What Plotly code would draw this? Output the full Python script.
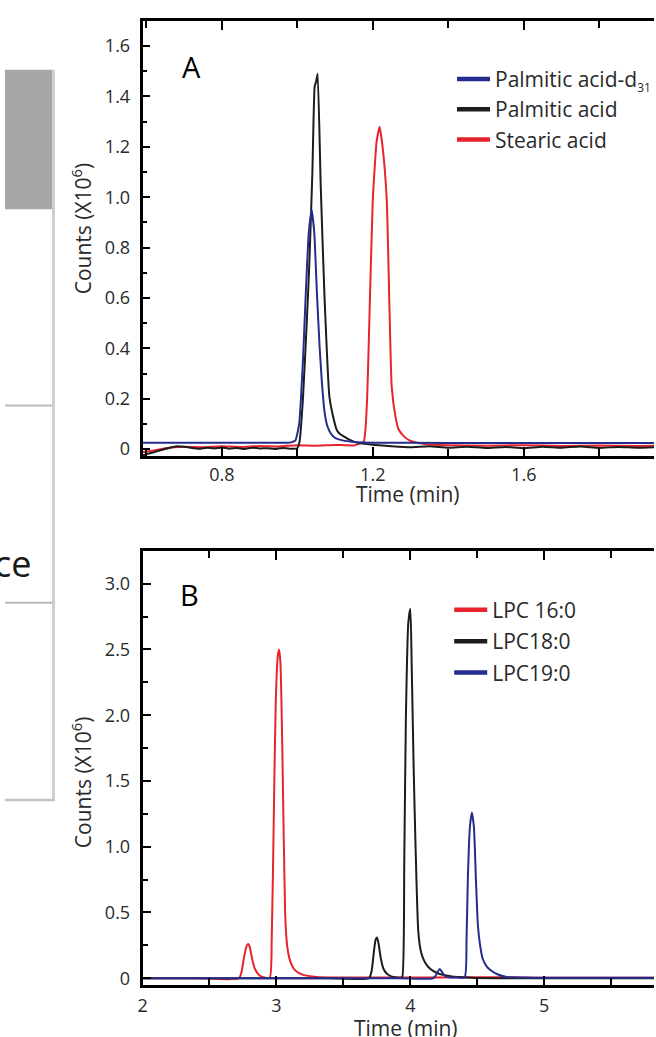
import plotly.graph_objects as go

W, H = 656, 1037

# ---------------- Data: panel A (fatty acids) ----------------
A_time_d31 = [0.59, 0.70, 0.80, 0.90, 0.98, 0.995, 1.005, 1.015, 1.022, 1.030, 1.038, 1.045,
              1.052, 1.059, 1.065, 1.072, 1.080, 1.090, 1.100, 1.120, 1.150, 1.200, 1.400,
              1.600, 1.800, 1.945]
A_d31 = [0.026, 0.026, 0.026, 0.026, 0.026, 0.035, 0.10, 0.35, 0.60, 0.85, 0.95, 0.86,
         0.62, 0.41, 0.27, 0.15, 0.09, 0.06, 0.045, 0.035, 0.029, 0.026, 0.025,
         0.025, 0.025, 0.025]

A_time_palm = [0.59, 0.60, 0.62, 0.64, 0.66, 0.68, 0.70, 0.72, 0.74, 0.76, 0.78, 0.80, 0.82,
               0.84, 0.86, 0.88, 0.90, 0.92, 0.94, 0.96, 0.98, 1.000, 1.006, 1.015, 1.025,
               1.032, 1.040, 1.046, 1.050, 1.054, 1.062, 1.072, 1.085, 1.098, 1.105, 1.113,
               1.122, 1.135, 1.160, 1.200, 1.250, 1.300, 1.350, 1.400, 1.450, 1.500, 1.550,
               1.600, 1.650, 1.700, 1.750, 1.800, 1.850, 1.900, 1.945]
A_palm = [-0.025, -0.020, -0.012, -0.003, 0.005, 0.012, 0.010, 0.005, 0.002, 0.006, 0.003,
          0.007, 0.002, 0.005, 0.001, 0.006, 0.003, 0.004, 0.001, 0.005, 0.002, 0.004, 0.03,
          0.20, 0.50, 0.74, 1.10, 1.44, 1.46, 1.49, 1.05, 0.61, 0.21, 0.11, 0.075, 0.06,
          0.052, 0.04, 0.025, 0.018, 0.012, 0.008, 0.012, 0.006, 0.010, 0.005, 0.009, 0.004,
          0.010, 0.006, 0.011, 0.005, 0.009, 0.006, 0.008]

A_time_stear = [0.59, 0.62, 0.65, 0.70, 0.75, 0.80, 0.85, 0.90, 0.95, 1.00, 1.05, 1.10, 1.15,
                1.176, 1.185, 1.190, 1.200, 1.210, 1.218, 1.226, 1.237, 1.250, 1.260, 1.268,
                1.280, 1.297, 1.320, 1.340, 1.400, 1.500, 1.600, 1.700, 1.800, 1.900, 1.945]
A_stear = [-0.012, -0.005, 0.004, 0.010, 0.008, 0.012, 0.009, 0.013, 0.011, 0.016, 0.014,
           0.017, 0.015, 0.03, 0.20, 0.46, 0.99, 1.22, 1.28, 1.20, 0.99, 0.25, 0.13, 0.08,
           0.055, 0.035, 0.025, 0.02, 0.016, 0.014, 0.016, 0.013, 0.015, 0.013, 0.014]

# ---------------- Data: panel B (lysophosphatidylcholines) ----------------
B_time_lpc16 = [2.00, 2.40, 2.72, 2.74, 2.76, 2.78, 2.79, 2.80, 2.82, 2.84, 2.87, 2.91, 2.95,
                2.965, 2.980, 2.995, 3.010, 3.020, 3.030, 3.045, 3.065, 3.080, 3.100, 3.140,
                3.200, 3.300, 3.500, 3.900, 4.200, 4.600, 5.000, 5.400, 5.820]
B_lpc16 = [0.0, 0.0, 0.0, 0.05, 0.17, 0.25, 0.26, 0.24, 0.14, 0.07, 0.025, 0.005, 0.003,
           0.30, 1.20, 2.10, 2.45, 2.50, 2.40, 1.70, 0.50, 0.25, 0.14, 0.06,
           0.025, 0.01, 0.005, 0.005, 0.006, 0.008, 0.004, 0.004, 0.004]

B_time_lpc18 = [2.00, 2.50, 3.00, 3.40, 3.69, 3.71, 3.73, 3.74, 3.75, 3.76, 3.78, 3.80, 3.83,
                3.87, 3.93, 3.940, 3.955, 3.967, 3.985, 4.000, 4.010, 4.025, 4.040, 4.060,
                4.080, 4.110, 4.150, 4.200, 4.300, 4.450, 4.800, 5.200, 5.820]
B_lpc18 = [0.0, 0.0, 0.0, 0.0, 0.0, 0.05, 0.22, 0.29, 0.31, 0.28, 0.15, 0.07, 0.03,
           0.01, 0.004, 0.01, 0.90, 1.98, 2.70, 2.81, 2.40, 1.60, 0.97, 0.35,
           0.20, 0.12, 0.07, 0.04, 0.015, 0.004, 0.0, 0.0, 0.0]

B_time_lpc19 = [2.00, 2.50, 3.00, 3.50, 3.90, 4.17, 4.19, 4.205, 4.22, 4.235, 4.25, 4.27,
                4.30, 4.35, 4.405, 4.420, 4.430, 4.445, 4.460, 4.475, 4.490, 4.505, 4.520,
                4.540, 4.570, 4.600, 4.650, 4.720, 4.850, 5.000, 5.400, 5.820]
B_lpc19 = [0.0, 0.0, 0.0, 0.0, 0.0, 0.0, 0.02, 0.05, 0.07, 0.05, 0.025, 0.01,
           0.006, 0.005, 0.006, 0.30, 0.77, 1.15, 1.26, 1.15, 0.75, 0.40, 0.26,
           0.15, 0.09, 0.06, 0.03, 0.01, 0.005, 0.003, 0.003, 0.003]

A_names = ["Palmitic acid-d<sub><span style='font-size:12px'>31</span></sub>",
           "Palmitic acid", "Stearic acid"]
B_names = ["LPC 16:0", "LPC18:0", "LPC19:0"]

A_ytick_vals = [0, 0.2, 0.4, 0.6, 0.8, 1.0, 1.2, 1.4, 1.6]
A_ytick_text = ["0", "0.2", "0.4", "0.6", "0.8", "1.0", "1.2", "1.4", "1.6"]
A_xtick_vals = [0.8, 1.2, 1.6]
A_xtick_text = ["0.8", "1.2", "1.6"]
B_ytick_vals = [0, 0.5, 1.0, 1.5, 2.0, 2.5, 3.0]
B_ytick_text = ["0", "0.5", "1.0", "1.5", "2.0", "2.5", "3.0"]
B_xtick_vals = [2, 3, 4, 5]
B_xtick_text = ["2", "3", "4", "5"]

BLUE = "#262c8e"
BLACK = "#1c1c1c"
RED = "#e8232b"
FONT = "Open Sans"
TXT = "#2a2a2a"


def px(x):
    return x / W


def py(y):
    return 1 - y / H


fig = go.Figure()

# Panel A traces (drawn order: red, black, blue on top like the reference)
for xs, ys, col in [(A_time_stear, A_stear, RED), (A_time_palm, A_palm, BLACK),
                    (A_time_d31, A_d31, BLUE)]:
    fig.add_trace(go.Scatter(x=xs, y=ys, mode="lines",
                             line=dict(color=col, width=2, shape="spline", smoothing=0.4),
                             xaxis="x", yaxis="y", showlegend=False, hoverinfo="skip"))
# Panel B traces
for xs, ys, col in [(B_time_lpc16, B_lpc16, RED), (B_time_lpc18, B_lpc18, BLACK),
                    (B_time_lpc19, B_lpc19, BLUE)]:
    fig.add_trace(go.Scatter(x=xs, y=ys, mode="lines",
                             line=dict(color=col, width=2, shape="spline", smoothing=0.6),
                             xaxis="x2", yaxis="y2", showlegend=False, hoverinfo="skip"))

# Legend entries (thick swatches)
for i, (nm, col) in enumerate(zip(A_names, [BLUE, BLACK, RED])):
    fig.add_trace(go.Scatter(x=[None], y=[None], mode="lines", name=nm,
                             line=dict(color=col, width=4.5), legend="legend",
                             legendgroup="a%d" % i, xaxis="x", yaxis="y"))
for i, (nm, col) in enumerate(zip(B_names, [RED, BLACK, BLUE])):
    fig.add_trace(go.Scatter(x=[None], y=[None], mode="lines", name=nm,
                             line=dict(color=col, width=4.5), legend="legend2",
                             legendgroup="b%d" % i, xaxis="x2", yaxis="y2"))

axis_common = dict(showline=True, linecolor="black", linewidth=2.5, ticks="inside",
                   tickcolor="black", tickwidth=2, showgrid=False, zeroline=False,
                   tickfont=dict(family=FONT, size=18, color=TXT), fixedrange=True)

fig.update_layout(
    width=W, height=H, margin=dict(l=0, r=0, t=0, b=0),
    paper_bgcolor="white", plot_bgcolor="white",
    xaxis=dict(domain=[px(139), 1], anchor="y", range=[0.59, 1.945],
               tickmode="array", tickvals=A_xtick_vals, ticktext=A_xtick_text,
               ticklen=9, mirror="ticks", ticklabelstandoff=0,
               minor=dict(tickmode="array", tickvals=[0.6, 1.0, 1.4, 1.8], ticks="inside",
                          ticklen=7, tickwidth=2, tickcolor="black"),
               **axis_common),
    yaxis=dict(domain=[py(458), py(21)], anchor="x", range=[-0.028, 1.70],
               tickmode="array", tickvals=A_ytick_vals, ticktext=A_ytick_text,
               ticklen=8, ticklabelstandoff=6,
               minor=dict(tickmode="array",
                          tickvals=[0.1, 0.3, 0.5, 0.7, 0.9, 1.1, 1.3, 1.5],
                          ticks="inside", ticklen=5, tickwidth=2, tickcolor="black"),
               **axis_common),
    xaxis2=dict(domain=[px(139), 1], anchor="y2", range=[2.0, 5.82],
                tickmode="array", tickvals=B_xtick_vals, ticktext=B_xtick_text,
                ticklen=9, mirror="ticks", ticklabelstandoff=2,
                minor=dict(tickmode="array", tickvals=[2.5, 3.5, 4.5, 5.5], ticks="inside",
                           ticklen=7, tickwidth=2, tickcolor="black"),
                **axis_common),
    yaxis2=dict(domain=[py(989), py(553)], anchor="x2", range=[-0.053, 3.25],
                tickmode="array", tickvals=B_ytick_vals, ticktext=B_ytick_text,
                ticklen=9, ticklabelstandoff=6,
                minor=dict(tickmode="array", tickvals=[0.25, 0.75, 1.25, 1.75, 2.25, 2.75],
                           ticks="inside", ticklen=6, tickwidth=2, tickcolor="black"),
                **axis_common),
    legend=dict(x=px(452), y=py(59), xanchor="left", yanchor="top",
                bgcolor="rgba(0,0,0,0)", borderwidth=0, itemwidth=33,
                tracegroupgap=0, font=dict(family=FONT, size=21, color=TXT)),
    legend2=dict(x=px(449), y=py(592), xanchor="left", yanchor="top",
                 bgcolor="rgba(0,0,0,0)", borderwidth=0, itemwidth=33,
                 tracegroupgap=1, font=dict(family=FONT, size=21, color=TXT)),
)

annotations = [
    dict(text="A", x=px(189), y=py(67), font=dict(family=FONT, size=29, color="black")),
    dict(text="B", x=px(186), y=py(597), font=dict(family=FONT, size=29, color="black")),
    dict(text="Counts (X10<sup>6</sup>)", x=px(77), y=py(229), textangle=-90,
         font=dict(family=FONT, size=21, color=TXT)),
    dict(text="Counts (X10<sup>6</sup>)", x=px(78), y=py(785), textangle=-90,
         font=dict(family=FONT, size=21, color=TXT)),
    dict(text="Time (min)", x=px(407), y=py(496), font=dict(family=FONT, size=21, color=TXT)),
    dict(text="Time (min)", x=px(405), y=py(1032), font=dict(family=FONT, size=21, color=TXT)),
]
for a in annotations:
    a.update(xref="paper", yref="paper", showarrow=False, xanchor="center", yanchor="middle")
annotations.append(dict(text="ce", x=px(28), y=py(566), xref="paper", yref="paper",
                        xanchor="right", yanchor="middle", showarrow=False,
                        font=dict(family=FONT, size=36, color="#1a1a1a")))
fig.update_layout(annotations=annotations)

# Cropped table fragment on the left
shapes = [
    dict(type="rect", x0=px(0), x1=px(48), y0=py(210), y1=py(70),
         fillcolor="#a7a7a7", line=dict(width=0)),
    dict(type="line", x0=px(49), x1=px(49), y0=py(804), y1=py(70),
         line=dict(color="#cfcfcf", width=3)),
    dict(type="line", x0=px(0), x1=px(48), y0=py(407), y1=py(407),
         line=dict(color="#b9b9b9", width=2)),
    dict(type="line", x0=px(0), x1=px(48), y0=py(605), y1=py(605),
         line=dict(color="#b9b9b9", width=2)),
    dict(type="line", x0=px(0), x1=px(50), y0=py(803), y1=py(803),
         line=dict(color="#c4c4c4", width=2.5)),
]
for s in shapes:
    s.update(xref="paper", yref="paper", layer="below")
fig.update_layout(shapes=shapes)

fig.write_html("out.html", config=dict(displayModeBar=False),
               post_script="document.body.style.margin='0px';"
                           "document.body.style.overflow='hidden';")
